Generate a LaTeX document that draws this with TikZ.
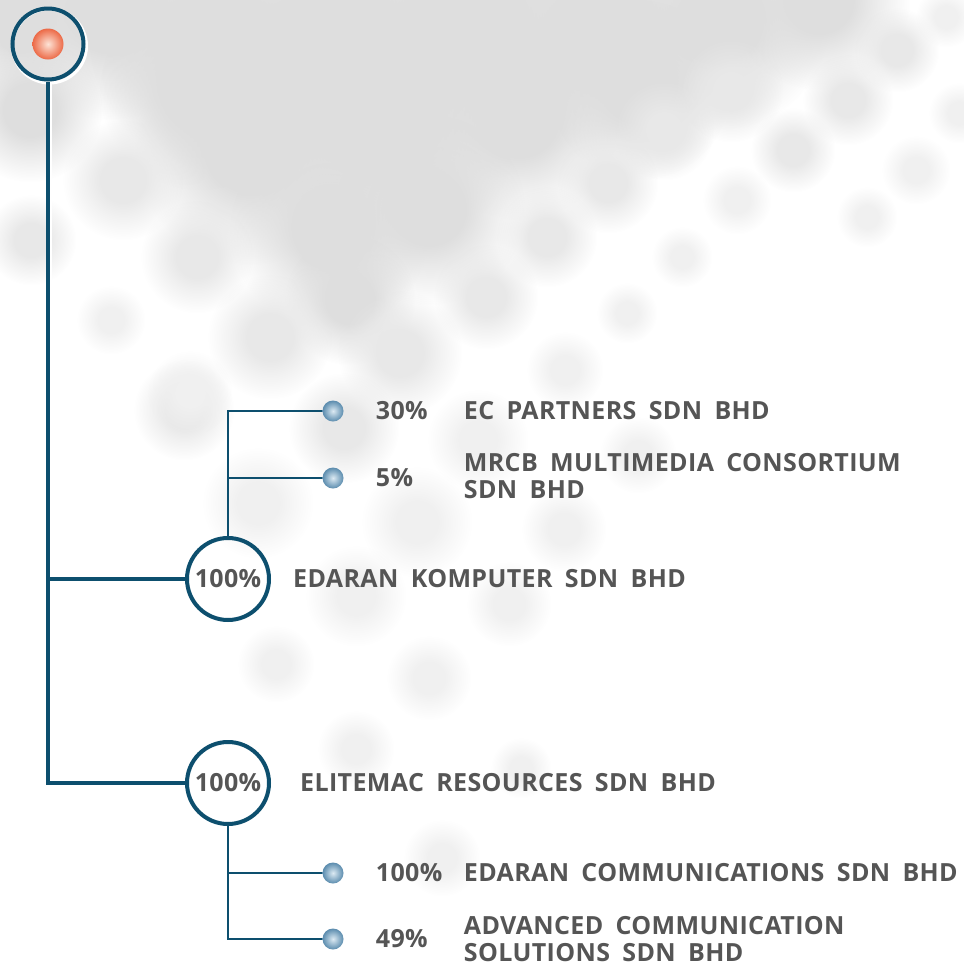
\documentclass[tikz,border=0pt]{standalone}
\usepackage{fontspec}
\newfontfamily\chartfont[WordSpace=1.8,LetterSpace=1.5]{Open Sans}
\usetikzlibrary{positioning,fadings}

\definecolor{linkblue}{HTML}{0D4F6E}
\definecolor{firmgray}{HTML}{555555}
\definecolor{bulletlight}{HTML}{DCEAF3}
\definecolor{bulletdark}{HTML}{5B8CAE}
\definecolor{rootlight}{HTML}{FDE3D6}
\definecolor{rootdark}{HTML}{EC6A47}

% soft edged disc for the background bubbles
\pgfdeclareradialshading{softdiskshade}{\pgfpointorigin}{color(0bp)=(white); color(9bp)=(white);
  color(16bp)=(black!45!white); color(25bp)=(black); color(50bp)=(black)}
\pgfdeclarefading{softdisk}{\pgfuseshading{softdiskshade}}

\tikzset{
  trunk/.style={draw=linkblue, line width=4.5pt},
  twig/.style={draw=linkblue, line width=2.2pt},
  holding/.style={circle, draw=linkblue, line width=4pt, minimum size=82pt,
    inner sep=0pt, text=firmgray, font=\chartfont\bfseries\fontsize{25}{27}\selectfont},
  bullet/.style={circle, shade, inner color=bulletlight, outer color=bulletdark,
    minimum size=21pt, inner sep=0pt},
  pct/.style={anchor=west, inner sep=0pt, text=firmgray,
    font=\chartfont\bfseries\fontsize{25}{27}\selectfont},
  firm/.style={pct, align=left},
  blob/.style={path fading=softdisk},
}

\begin{document}
\begin{tikzpicture}[x=1pt,y=-1pt]
    \useasboundingbox (0,0) rectangle (964,967);
    \fill[white] (0,0) rectangle (964,967);

    % Background bubbles:
    % Soft gray discs, darker near the top left, paler further down
    \begin{scope}
    \foreach \x/\y/\r in {20/20/80, 110/10/110, 220/40/130, 330/40/150, 470/30/150, 600/30/130,
        720/20/110, 820/0/90, 250/150/115, 380/120/140, 520/120/100, 330/230/100, 430/210/95,
        350/300/65, 30/110/72, 200/90/100, 640/90/90}
      \fill[black!13, blob] (\x,\y) circle (\r);
    \foreach \x/\y/\r in {664/130/50, 608/183/50, 547/237/50, 486/297/52, 731/90/52, 793/150/42,
        848/100/45, 897/50/42, 123/180/60, 31/240/45, 197/257/56, 270/337/62, 400/353/62,
        184/410/50, 344/428/55}
      \fill[black!9, blob] (\x,\y) circle (\r);
    \foreach \x/\y/\r in {737/200/34, 682/257/30, 627/313/30, 565/370/38, 916/170/34, 867/217/30,
        946/17/30, 959/113/30, 111/320/34, 190/393/42, 478/440/50, 638/455/38, 258/503/55,
        417/522/55, 564/529/42, 356/596/50, 509/604/42, 276/664/38, 429/678/42, 356/749/38,
        521/768/30, 442/858/38}
      \fill[black!6, blob] (\x,\y) circle (\r);
    \end{scope}

    % Root of the tree: ring with the orange ball
    \draw[white, line width=3pt] (49.5,46) circle (37);
    \node[circle, draw=linkblue, line width=4pt, minimum size=71pt, inner sep=0pt] (root) at (48,44) {};
    \shade[inner color=rootlight, outer color=rootdark] (root.center) circle (15.5);

    % Holdings and their subsidiaries
    \node[holding] (ekomp) at (228,579) {100\%};
    \node[holding] (elite) at (228,783) {100\%};

    \node[bullet] (ecp)  at (333,411) {};
    \node[bullet] (mrcb) at (333,478) {};
    \node[bullet] (ecom) at (333,873) {};
    \node[bullet] (acs)  at (333,939) {};

    % Main trunk
    \draw[white, line width=1.5pt] ([xshift=3pt]root.south) -- ([xshift=3pt]root.south |- ekomp.west);
    \draw[trunk] (root.south) -- (root.south |- elite.west) -- (elite.west);
    \draw[trunk] (root.south |- ekomp.west) -- (ekomp.west);

    % Branches to the smaller stakes
    \draw[twig] (ekomp.north) -- (ekomp.north |- ecp) -- (ecp);
    \draw[twig] (ekomp.north |- mrcb) -- (mrcb);
    \draw[twig] (elite.south) -- (elite.south |- acs) -- (acs);
    \draw[twig] (elite.south |- ecom) -- (ecom);

    % Labels
    \node[pct, right=32pt of ecp]  (ecp-pct)  {30\%};
    \node[pct, right=32pt of mrcb] (mrcb-pct) {5\%};
    \node[pct, right=32pt of ecom] (ecom-pct) {100\%};
    \node[pct, right=32pt of acs]  (acs-pct)  {49\%};

    \node[firm, right=120pt of ecp]  (ecp-name)  {EC PARTNERS SDN BHD};
    \node[firm, right=120pt of mrcb, yshift=2pt] (mrcb-name) {MRCB MULTIMEDIA CONSORTIUM\\SDN BHD};
    \node[firm, right=120pt of ecom] (ecom-name) {EDARAN COMMUNICATIONS SDN BHD};
    \node[firm, right=120pt of acs]  (acs-name)  {ADVANCED COMMUNICATION\\SOLUTIONS SDN BHD};

    \node[firm, right=22pt of ekomp] (ekomp-name) {EDARAN KOMPUTER SDN BHD};
    \node[firm, right=29pt of elite] (elite-name) {ELITEMAC RESOURCES SDN BHD};
\end{tikzpicture}
\end{document}
